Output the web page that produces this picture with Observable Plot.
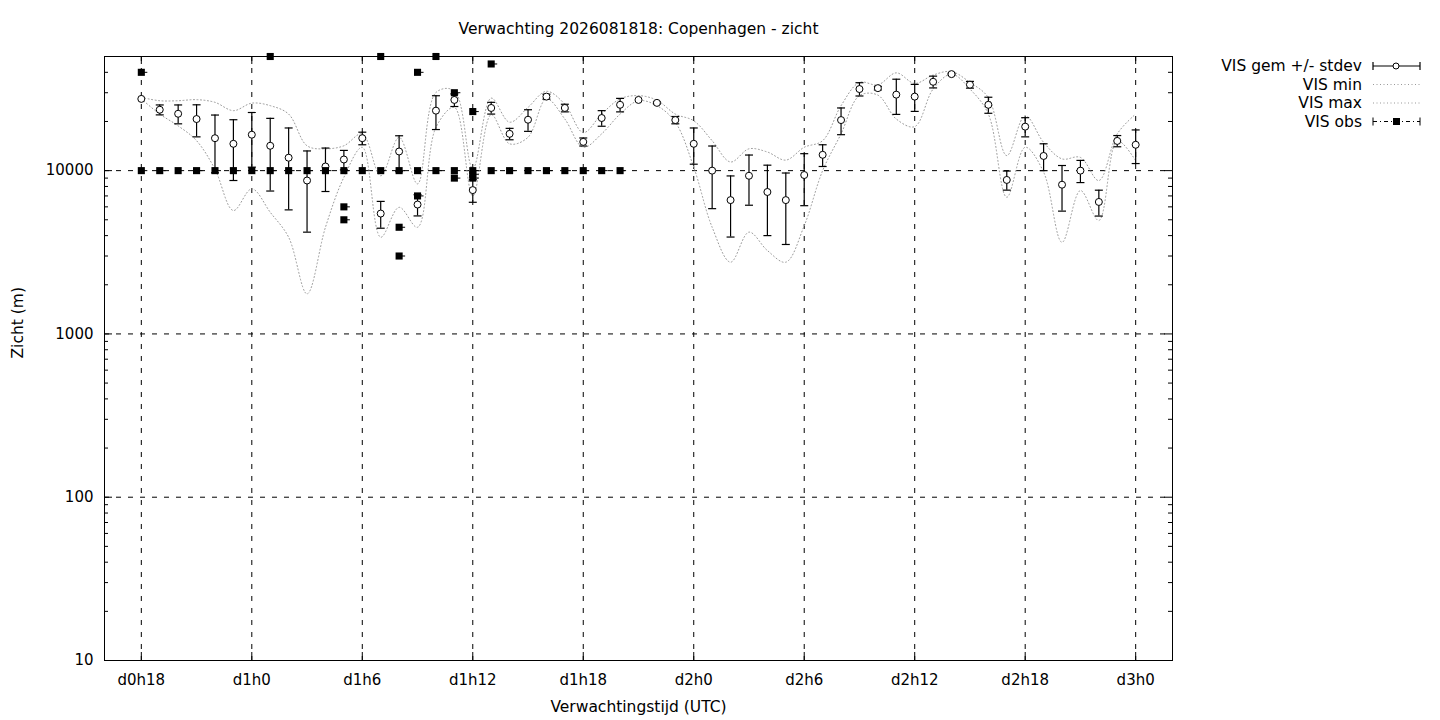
<!DOCTYPE html>
<html><head><meta charset="utf-8">
<script src="https://cdn.jsdelivr.net/npm/d3@7"></script>
<script src="https://cdn.jsdelivr.net/npm/@observablehq/plot@0.6"></script>
<style>
body{margin:0;background:#fff;font-family:"DejaVu Sans",sans-serif;}
#wrap{position:relative;width:1440px;height:720px;overflow:hidden;}
#wrap svg.legend{position:absolute;left:0;top:0;pointer-events:none;}
</style></head><body><div id="wrap"></div>
<script>
// ---- data (hours since d0h0) ----
const hours   = [18,19,20,21,22,23,24,25,26,27,28,29,30,31,32,33,34,35,36,37,38,39,40,41,42,43,44,45,46,47,48,49,50,51,52,53,54,55,56,57,58,59,60,61,62,63,64,65,66,67,68,69,70,71,72];
const visMean = [27500,23600,22300,20700,15800,14600,16600,14200,12000,8700,10600,11700,15800,5460,13100,6200,23300,27100,7600,24200,16800,20500,28400,24200,15000,21000,25300,27100,26000,20400,14600,10000,6600,9300,7400,6600,9400,12500,20400,31600,32000,29200,28400,35000,39000,33600,25300,8770,18600,12300,8200,10000,6430,15200,14400];
const visStd  = [0,1650,2950,4600,6100,5900,6100,6700,6250,4500,3150,1600,1400,1020,3250,920,5450,2400,1200,2000,1350,3100,1000,1300,850,2300,2400,0,400,1050,3650,4150,2680,3160,3400,3070,3300,1900,3800,2950,800,7100,5350,2900,500,1600,2850,1175,2500,2300,2550,1550,1160,1200,3350];
const visMin  = [27500,22200,18800,15250,10200,5700,7730,5560,3910,1760,4500,9100,13900,3910,5960,4500,18400,24400,7000,22000,14600,16000,27500,20700,13900,16800,22200,26800,25000,19800,10500,4500,2750,4200,3240,2750,4600,10000,16800,28800,29000,20700,18600,31600,39000,31600,22200,6870,13900,9800,3640,7550,4950,15250,11500];
const visMax  = [28100,26800,26800,27200,26200,23300,25900,25000,22200,14200,13600,14200,16800,9300,16000,8300,30100,30900,10300,27800,19800,24400,30600,25500,17100,22200,27500,28800,27000,22200,20200,15250,11300,13600,13000,11600,13900,15250,25000,34700,33500,39700,34200,38500,40400,34700,28000,12360,21700,14900,11800,12050,8700,16800,22200];
const obsHours  = [18,19,20,21,22,23,24,25,26,27,28,29,30,31,32,33,34,35,36,37,38,39,40,41,42,43,44, 18,25,29,29,31,32,32,33,33,34,35,35,36,36,36,37];
const obsValues = [10000,10000,10000,10000,10000,10000,10000,10000,10000,10000,10000,10000,10000,10000,10000,10000,10000,10000,10000,10000,10000,10000,10000,10000,10000,10000,10000, 40000,50000,6000,5000,50000,4500,3000,40000,7000,50000,30000,9000,23000,9500,9000,45000];

const xTickHours  = [18,24,30,36,42,48,54,60,66,72];
const xTickLabels = ["d0h18","d1h0","d1h6","d1h12","d1h18","d2h0","d2h6","d2h12","d2h18","d3h0"];
const yTicks      = [10,100,1000,10000];
const yGrid       = [100,1000,10000];
const yMinorTicks = [20,30,40,50,60,70,80,90,200,300,400,500,600,700,800,900,2000,3000,4000,5000,6000,7000,8000,9000,20000,30000,40000];

const titleText = "Verwachting 2026081818: Copenhagen - zicht";
const xLabel = "Verwachtingstijd (UTC)";
const yLabel = "Zicht (m)";
const legendLabels = ["VIS gem +/- stdev","VIS min","VIS max","VIS obs"];

// ---- tables ----
const series = hours.map((h,i)=>({h, mean:visMean[i], sd:visStd[i], lo:visMean[i]-visStd[i], hi:visMean[i]+visStd[i], min:visMin[i], max:visMax[i]}));
const bars = series.filter(d=>d.sd>0);
const obs = obsHours.map((h,i)=>({h, v:obsValues[i]}));

const W=1440,H=720,ML=104,MR=268,MT=56,MB=60;
const PW=W-ML-MR, PH=H-MT-MB;
const capSymbol = {draw(ctx){ctx.moveTo(-4,0);ctx.lineTo(4,0);}};
const obsCap = {draw(ctx){ctx.moveTo(0,0);ctx.lineTo(6,0);}};
const FONT='"DejaVu Sans", sans-serif';
const dash="5,7";

const chart = Plot.plot({
  width:W, height:H, marginLeft:ML, marginRight:MR, marginTop:MT, marginBottom:MB,
  style:{fontFamily:FONT, fontSize:"16px", background:"white", color:"black", overflow:"visible"},
  x:{type:"linear", domain:[16,74]},
  y:{type:"log", domain:[10,50000]},
  marks:[
    Plot.ruleY(yGrid, {stroke:"black", strokeWidth:1, strokeDasharray:dash}),
    Plot.ruleX(xTickHours, {stroke:"black", strokeWidth:1, strokeDasharray:dash}),
    Plot.tickY(yMinorTicks, {insetRight:PW-4, stroke:"black"}),
    Plot.tickY(yMinorTicks, {insetLeft:PW-4, stroke:"black"}),
    Plot.tickY(yTicks, {insetRight:PW-8, stroke:"black"}),
    Plot.tickY(yTicks, {insetLeft:PW-8, stroke:"black"}),
    Plot.tickX(xTickHours, {insetBottom:PH-8, stroke:"black"}),
    Plot.tickX(xTickHours, {insetTop:PH-8, stroke:"black"}),
    Plot.line(series, {x:"h", y:"min", curve:"catmull-rom", stroke:"#999", strokeWidth:1, strokeDasharray:"1,2.5"}),
    Plot.line(series, {x:"h", y:"max", curve:"catmull-rom", stroke:"#999", strokeWidth:1, strokeDasharray:"1,2.5"}),
    Plot.ruleX(bars, {x:"h", y1:"lo", y2:"hi", stroke:"black", strokeWidth:1.2}),
    Plot.dot(bars, {x:"h", y:"lo", symbol:capSymbol, fill:"none", stroke:"black", strokeWidth:1.2}),
    Plot.dot(bars, {x:"h", y:"hi", symbol:capSymbol, fill:"none", stroke:"black", strokeWidth:1.2}),
    Plot.dot(series, {x:"h", y:"mean", r:3.5, fill:"white", stroke:"black", strokeWidth:1}),
    Plot.dot(obs, {x:"h", y:"v", symbol:obsCap, fill:"none", stroke:"black", strokeWidth:1}),
    Plot.dot(obs, {x:"h", y:"v", symbol:"square", r:4, fill:"black", stroke:"none"}),
    Plot.frame({stroke:"black", strokeWidth:1}),
    Plot.axisY({ticks:yTicks, tickSize:0, tickPadding:11, tickFormat:d=>String(d), label:null, fontSize:15}),
    Plot.axisX({ticks:xTickHours, tickSize:0, tickPadding:14, tickFormat:h=>xTickLabels[xTickHours.indexOf(h)], label:null, fontSize:15}),
    Plot.text([titleText], {text:d=>d, frameAnchor:"top", dy:-27, fontSize:15.5, lineAnchor:"middle"}),
    Plot.text([xLabel], {text:d=>d, frameAnchor:"bottom", dy:47, fontSize:15.5, lineAnchor:"middle"}),
    Plot.text([yLabel], {text:d=>d, frameAnchor:"left", dx:-86, rotate:-90, fontSize:15.5, lineAnchor:"middle"})
  ]
});
const wrap = document.getElementById("wrap");
wrap.appendChild(chart);

// ---- legend ----
const lg = d3.select(wrap).append("svg").attr("class","legend").attr("width",W).attr("height",H)
  .style("font-family",FONT).style("font-size","15.5px");
const rowY = i => 66 + i*18.5;
legendLabels.forEach((t,i)=>{
  lg.append("text").attr("x",1362).attr("y",rowY(i)).attr("text-anchor","end").attr("dominant-baseline","central").text(t);
});
// row 0: error bar sample with circle
{const y=rowY(0);
 lg.append("line").attr("x1",1373).attr("x2",1420).attr("y1",y).attr("y2",y).attr("stroke","black").attr("stroke-width",1.2);
 lg.append("line").attr("x1",1373).attr("x2",1373).attr("y1",y-4).attr("y2",y+4).attr("stroke","black").attr("stroke-width",1.2);
 lg.append("line").attr("x1",1420).attr("x2",1420).attr("y1",y-4).attr("y2",y+4).attr("stroke","black").attr("stroke-width",1.2);
 lg.append("circle").attr("cx",1396).attr("cy",y).attr("r",3).attr("fill","white").attr("stroke","black");}
// rows 1,2: dotted gray
[1,2].forEach(i=>{const y=rowY(i);
 lg.append("line").attr("x1",1373).attr("x2",1420).attr("y1",y).attr("y2",y).attr("stroke","#999").attr("stroke-dasharray","1,2.5");});
// row 3: obs
{const y=rowY(3);
 lg.append("line").attr("x1",1373).attr("x2",1420).attr("y1",y).attr("y2",y).attr("stroke","black").attr("stroke-dasharray","4,3,1,3");
 lg.append("line").attr("x1",1373).attr("x2",1373).attr("y1",y-4).attr("y2",y+4).attr("stroke","black");
 lg.append("line").attr("x1",1420).attr("x2",1420).attr("y1",y-4).attr("y2",y+4).attr("stroke","black");
 lg.append("rect").attr("x",1393).attr("y",y-3.5).attr("width",7).attr("height",7).attr("fill","black");}
</script></body></html>
